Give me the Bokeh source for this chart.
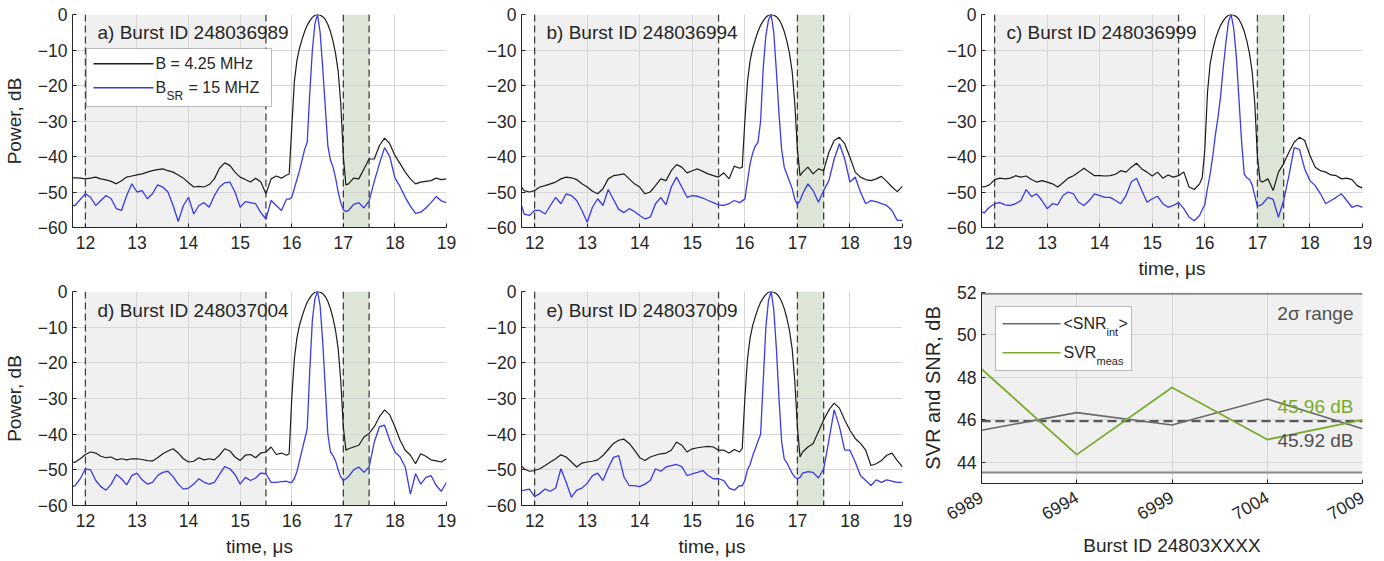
import math
from bokeh.plotting import figure
from bokeh.models import Span, BoxAnnotation, Label, FixedTicker, Range1d
from bokeh.layouts import row, column
from bokeh.embed import file_html
from bokeh.resources import INLINE

# ---------------- data ----------------
# time grid (microseconds): coarse outside the main lobe, finer across it
T = ([11.75] + [round(11.8 + 0.1 * i, 2) for i in range(42)]
     + [round(15.95 + 0.05 * i, 2) for i in range(23)]
     + [round(17.1 + 0.1 * i, 2) for i in range(20)])

X_TICKS = [12, 13, 14, 15, 16, 17, 18, 19]
Y_TICKS = [-60, -50, -40, -30, -20, -10, 0]
NOISE_WIN = [12, 15.5]
SIDE_WIN = [17, 17.5]

A_BLACK = ([-46.0, -46.0, -46.1, -46.3, -46.1, -45.8, -46.3, -46.6, -47.0, -47.7, -46.8, -45.8, -45.5,
            -45.2, -44.9, -44.4, -44.0, -43.7, -43.5, -44.0, -44.4, -45.2, -46.1,
            -47.4, -48.6, -48.4, -48.6, -47.9, -46.3, -43.3, -41.8, -42.5, -44.4,
            -45.8, -46.5, -47.2, -46.1, -47.2, -50.5, -46.3, -45.5, -46.1, -45.2]
           + [-45, -32, -19, -13, -9.5, -7, -4.8, -3, -1.8, -0.8, -0.2, 0, -0.2, -0.6, -1.4, -2.8,
              -4.8, -7.5, -11, -16, -25, -40, -48]
           + [-47.7, -46.1, -46.3, -43.5, -40.7, -40.7, -36.9, -34.8, -36.4, -39.7, -42.0, -44.4,
              -46.3, -47.7, -47.2, -47.0, -46.8, -46.1, -46.5, -46.3])
A_BLUE = ([-53.8, -53.8, -52.1, -50.5, -51.5, -53.8, -52.4, -51.0, -51.9, -54.7, -55.2, -51.0, -47.7,
           -50.0, -49.6, -51.9, -50.5, -48.0, -48.6, -50.0, -53.8, -58.3, -53.8,
           -51.5, -56.2, -53.8, -53.0, -54.3, -51.0, -48.6, -47.4, -47.2, -50.0,
           -54.3, -52.7, -53.0, -53.3, -55.8, -57.6, -52.4, -53.8, -55.2, -52.0]
          + [-52, -51.5, -49, -46.5, -44, -41, -38, -36, -22, -10, -2.5, 0, -5, -15, -26, -37,
             -41, -43, -46, -50, -53, -55, -55.5]
          + [-55.2, -53.5, -53.0, -54.5, -52.5, -47.0, -42.0, -37.5, -40.0, -46.0, -48.5, -51.5,
             -54.0, -56.0, -55.7, -54.5, -53.0, -51.3, -52.5, -53.0])

B_BLACK = ([-48.6, -49.6, -50.0, -49.6, -48.6, -48.2, -47.7, -47.2, -46.3, -45.8, -46.0, -46.5, -47.7,
            -48.6, -49.8, -50.5, -49.1, -46.3, -45.4, -45.2, -44.9, -46.3, -47.7,
            -48.6, -50.5, -50.0, -48.2, -46.3, -46.8, -44.0, -42.3, -43.0, -44.6,
            -44.0, -43.5, -44.2, -44.9, -45.4, -45.8, -44.6, -46.3, -42.7, -43.3]
           + [-43, -30, -19, -13, -9.5, -7, -4.8, -3, -1.8, -0.8, -0.2, 0, -0.2, -0.6, -1.4, -2.8,
              -4.8, -7.5, -11, -16, -25, -38, -45.4]
           + [-44.4, -43.0, -44.9, -43.5, -44.0, -38.8, -35.5, -34.6, -36.4, -40.2, -44.4, -45.8,
              -46.5, -46.8, -46.3, -45.6, -47.0, -48.6, -49.9, -48.4])
B_BLUE = ([-53.8, -56.2, -56.6, -55.2, -55.2, -56.2, -53.8, -51.5, -53.3, -50.5, -51.0, -52.4, -55.2,
           -58.5, -54.3, -51.9, -53.8, -49.3, -52.1, -54.9, -55.8, -54.7, -55.5,
           -56.6, -57.6, -57.1, -53.3, -51.5, -53.6, -48.6, -45.8, -48.6, -51.5,
           -51.0, -51.2, -51.7, -52.4, -53.0, -53.6, -53.8, -53.3, -52.4, -53.0]
          + [-52.5, -52, -47, -42, -39, -37, -36, -30, -15, -6, -1.5, 0, -5, -16, -28, -38,
             -43, -45, -47, -49, -52, -53.5, -52.4]
          + [-50.5, -47.7, -49.6, -52.9, -49.6, -46.8, -40.7, -36.4, -40.7, -47.2, -45.8, -50.0,
             -53.3, -52.4, -52.7, -53.3, -53.8, -55.2, -58.0, -58.0])

C_BLACK = ([-48.5, -48.6, -48.0, -46.5, -46.1, -46.3, -46.1, -45.4, -45.8, -45.5, -46.5, -47.2, -46.8,
            -47.2, -47.7, -48.6, -47.4, -46.1, -45.4, -44.4, -43.3, -44.4, -45.4,
            -45.4, -45.5, -45.4, -45.0, -44.0, -44.4, -43.0, -41.9, -43.5, -44.4,
            -45.5, -44.4, -46.1, -45.2, -45.8, -45.4, -44.4, -48.6, -49.3, -47.7]
           + [-46, -38, -22, -14, -10, -7, -4.8, -3, -1.8, -0.8, -0.2, 0, -0.2, -0.6, -1.4, -2.8,
              -4.8, -7.5, -11, -16, -25, -40, -46.8]
           + [-47.2, -46.3, -49.6, -44.4, -42.0, -38.8, -36.0, -34.6, -35.5, -39.7, -43.0, -44.0,
              -44.4, -45.2, -45.4, -46.3, -46.1, -46.5, -48.2, -48.9])
C_BLUE = ([-55.5, -55.9, -54.3, -53.3, -53.0, -53.6, -53.8, -53.3, -52.4, -49.3, -51.3, -50.5, -52.4,
           -54.7, -53.3, -53.6, -51.0, -50.0, -50.5, -52.9, -53.8, -52.4, -50.5,
           -51.0, -51.5, -51.5, -52.4, -53.3, -51.0, -47.2, -46.1, -49.6, -52.9,
           -51.9, -51.2, -53.3, -54.3, -53.8, -53.0, -54.7, -57.1, -58.1, -56.6]
          + [-55, -53.5, -49, -45, -40, -34, -29, -23, -15, -8, -2, 0, -4, -12, -24, -36,
             -45, -46, -46.5, -48, -51, -54, -53.8]
          + [-53.3, -51.5, -52.1, -57.1, -52.4, -45.4, -37.5, -38.0, -43.5, -46.8, -48.2, -50.5,
             -53.3, -52.4, -51.5, -50.5, -52.4, -54.3, -53.8, -54.3])

D_BLACK = ([-47.8, -47.9, -46.9, -45.7, -45.0, -45.3, -46.2, -46.6, -46.4, -47.2, -46.9, -47.2, -46.9,
            -46.9, -47.1, -47.4, -47.5, -46.6, -45.5, -44.7, -44.1, -45.3, -46.9,
            -47.8, -47.6, -46.6, -47.2, -46.9, -47.2, -45.9, -44.1, -44.7, -46.4,
            -47.4, -45.9, -45.7, -46.6, -45.3, -45.0, -43.6, -45.7, -45.3, -45.9]
           + [-45.5, -30, -19, -13, -9.5, -7, -4.8, -3, -1.8, -0.8, -0.2, 0, -0.2, -0.6, -1.4, -2.8,
              -4.8, -7.5, -11, -16, -25, -38, -44.5]
           + [-44.1, -43.6, -43.1, -40.8, -39.8, -37.9, -35.1, -33.2, -34.6, -37.9, -41.7, -44.5,
              -45.9, -48.3, -45.5, -46.2, -47.2, -47.5, -47.8, -46.9])
D_BLUE = ([-54.7, -54.4, -52.5, -49.7, -50.0, -53.0, -54.7, -55.7, -54.0, -51.3, -52.5, -54.2, -51.6,
           -50.9, -52.8, -54.0, -53.5, -51.6, -50.7, -50.4, -51.9, -54.0, -55.4,
           -55.1, -54.0, -52.5, -53.5, -54.0, -53.5, -51.3, -49.1, -49.7, -51.3,
           -54.0, -52.1, -53.0, -52.3, -50.9, -51.1, -53.5, -53.5, -53.3, -53.2]
          + [-53.5, -53.5, -52.5, -50.5, -47.5, -44.5, -41.5, -38.5, -22, -8, -2, 0, -4, -14, -27,
             -40, -45, -46, -47.5, -50, -52, -53, -52.5]
          + [-51.9, -50.0, -49.2, -50.7, -49.2, -42.2, -37.9, -37.5, -41.7, -45.0, -46.4, -49.2,
             -56.8, -51.1, -54.0, -52.1, -51.6, -54.4, -56.0, -53.5])

E_BLACK = ([-48.8, -49.7, -50.4, -50.2, -49.7, -48.8, -47.8, -46.9, -45.8, -46.4, -47.8, -49.2, -48.1,
            -47.8, -47.6, -47.2, -46.0, -44.3, -42.6, -41.7, -41.4, -42.6, -44.5,
            -46.6, -47.4, -46.4, -45.9, -45.5, -45.3, -44.5, -42.2, -43.1, -45.0,
            -44.1, -43.8, -43.6, -43.4, -43.6, -44.5, -44.5, -45.3, -44.3, -45.0]
           + [-44, -30, -19, -13, -9.5, -7, -4.8, -3, -1.8, -0.8, -0.2, 0, -0.2, -0.6, -1.4, -2.8,
              -4.8, -7.5, -11, -16, -25, -38, -46.4]
           + [-45.0, -43.6, -42.6, -39.3, -36.0, -33.2, -31.3, -32.7, -36.0, -38.9, -41.2, -42.6,
              -44.5, -48.8, -48.3, -47.4, -45.9, -45.3, -47.4, -49.2])
E_BLUE = ([-55.8, -55.7, -55.4, -57.5, -56.6, -55.4, -56.0, -55.1, -49.7, -53.5, -57.7, -55.7, -55.1,
           -53.8, -51.6, -50.9, -53.0, -49.5, -46.5, -46.0, -52.0, -54.4, -54.4,
           -54.7, -54.0, -53.0, -49.7, -50.4, -49.2, -48.8, -48.5, -49.1, -51.6,
           -51.1, -50.7, -50.2, -51.6, -52.5, -52.5, -53.0, -55.1, -55.7, -54.4]
          + [-54.5, -53, -50, -48.5, -46, -44, -42, -40, -25, -10, -2.5, 0, -5, -16, -30, -42,
             -47, -48, -49.5, -51, -52, -52.5, -52.1]
          + [-50.9, -50.5, -50.7, -52.3, -49.7, -41.7, -33.2, -37.9, -44.5, -44.5, -47.8, -51.6,
             -53.0, -54.4, -52.8, -53.5, -52.8, -53.2, -53.5, -53.5])

TITLES = ["a) Burst ID 248036989", "b) Burst ID 248036994", "c) Burst ID 248036999",
          "d) Burst ID 248037004", "e) Burst ID 248037009"]

# summary panel
BURST_IDS = [6989, 6994, 6999, 7004, 7009]
SNR_INT = [45.51, 46.34, 45.76, 46.98, 45.58]
SVR_MEAS = [48.40, 44.36, 47.52, 45.07, 46.00]
SNR_MEAN = 45.92
SVR_MEAN = 45.96
SIGMA_LO = 43.52
SIGMA_HI = 51.94
F_Y_TICKS = [44, 46, 48, 50, 52]

for s in (A_BLACK, A_BLUE, B_BLACK, B_BLUE, C_BLACK, C_BLUE, D_BLACK, D_BLUE, E_BLACK, E_BLUE):
    assert len(s) == len(T), len(s)

# ---------------- style ----------------
FONT = "Liberation Sans"
TXT = "#262626"
C_BLACK_LINE = "#1c1c1c"
C_BLUE_LINE = "#3a3ae6"
C_GREEN = "#77ac30"
C_GREY = "#6a6a6a"


def style_axes(p, xt, yt):
    p.outline_line_color = None
    p.background_fill_color = "white"
    p.border_fill_color = "white"
    p.xaxis.ticker = FixedTicker(ticks=xt)
    p.yaxis.ticker = FixedTicker(ticks=yt)
    p.xgrid.ticker = FixedTicker(ticks=xt)
    p.ygrid.ticker = FixedTicker(ticks=yt)
    p.grid.grid_line_color = "#d6d6d6"
    p.grid.grid_line_width = 1
    for ax in (p.xaxis, p.yaxis):
        ax.axis_line_color = TXT
        ax.axis_line_width = 1
        ax.major_tick_line_color = TXT
        ax.major_tick_in = 4
        ax.major_tick_out = 0
        ax.minor_tick_line_color = None
        ax.major_label_text_font = FONT
        ax.major_label_text_font_size = "17.5px"
        ax.major_label_text_color = TXT
        ax.axis_label_text_font = FONT
        ax.axis_label_text_font_size = "19px"
        ax.axis_label_text_font_style = "normal"
        ax.axis_label_text_color = TXT
    p.xaxis.major_label_standoff = 8
    p.yaxis.major_label_standoff = 5
    p.xaxis.axis_label_standoff = 6
    p.yaxis.axis_label_standoff = 10


def screen_label(p, x, y, text, size, color=TXT, align="left"):
    p.add_layout(Label(x=x, y=y, x_units="screen", y_units="screen", text=text,
                       text_font=FONT, text_font_size=size, text_color=color,
                       text_baseline="middle", text_align=align, level="overlay"))


def screen_box(p, l, r, b, t):
    p.add_layout(BoxAnnotation(left=l, right=r, bottom=b, top=t,
                               left_units="screen", right_units="screen",
                               bottom_units="screen", top_units="screen",
                               fill_color="white", fill_alpha=1, line_color=TXT,
                               line_width=1, level="annotation"))


def screen_hline(p, x0, x1, y, color, thick):
    # legend swatch: a thin filled strip in screen space
    p.add_layout(BoxAnnotation(left=x0, right=x1, bottom=y, top=y + thick,
                               left_units="screen", right_units="screen",
                               bottom_units="screen", top_units="screen",
                               fill_color=color, fill_alpha=1, line_color=None,
                               level="overlay"))


def make_panel(black, blue, title, width, height, ml, mr, mt, mb, ylabel=None, xlabel=None,
               legend=False):
    p = figure(width=width, height=height, x_range=Range1d(11.75, 19), y_range=Range1d(-60, 0),
               output_backend="svg", toolbar_location=None,
               min_border_left=ml, min_border_right=mr, min_border_top=mt, min_border_bottom=mb)
    style_axes(p, X_TICKS, Y_TICKS)
    p.add_layout(BoxAnnotation(left=NOISE_WIN[0], right=NOISE_WIN[1], fill_color="#f0f0f0",
                               fill_alpha=1, line_color=None, level="image"))
    p.add_layout(BoxAnnotation(left=SIDE_WIN[0], right=SIDE_WIN[1], fill_color="#dde6d6",
                               fill_alpha=1, line_color=None, level="image"))
    for loc in NOISE_WIN + SIDE_WIN:
        p.add_layout(Span(location=loc, dimension="height", line_color="#404040",
                          line_width=1.3, line_dash="7 4", level="underlay"))
    p.line(T, black, line_color=C_BLACK_LINE, line_width=1.2)
    p.line(T, blue, line_color=C_BLUE_LINE, line_width=1.3)
    if ylabel:
        p.yaxis.axis_label = ylabel
    if xlabel:
        p.xaxis.axis_label = xlabel
    screen_label(p, 25, 195, title, "19px")
    if legend:
        screen_box(p, 14, 199, 121, 179)
        screen_hline(p, 21, 81, 163, C_BLACK_LINE, 1.4)
        screen_hline(p, 21, 81, 139, C_BLUE_LINE, 1.4)
        screen_label(p, 83, 164, "B = 4.25 MHz", "16px")
        screen_label(p, 83, 140, "B", "16px")
        screen_label(p, 94, 132, "SR", "12px")
        screen_label(p, 116, 140, "= 15 MHZ", "16px")
    return p


XL = "time, \u03bcs"
pa = make_panel(A_BLACK, A_BLUE, TITLES[0], 456, 281, 66, 10, 14, 54, ylabel="Power, dB", legend=True)
pb = make_panel(B_BLACK, B_BLUE, TITLES[1], 456, 281, 65, 10, 14, 54)
pc = make_panel(C_BLACK, C_BLUE, TITLES[2], 472, 281, 69, 22, 14, 54, xlabel=XL)
pd = make_panel(D_BLACK, D_BLUE, TITLES[3], 456, 280, 66, 10, 10, 56, ylabel="Power, dB", xlabel=XL)
pe = make_panel(E_BLACK, E_BLUE, TITLES[4], 456, 280, 65, 10, 10, 56, xlabel=XL)

# ---------------- summary panel ----------------
pf = figure(width=472, height=280, x_range=Range1d(6989, 7009), y_range=Range1d(43, 52),
            output_backend="svg", toolbar_location=None,
            min_border_left=69, min_border_right=22, min_border_top=11, min_border_bottom=78)
style_axes(pf, BURST_IDS, F_Y_TICKS)
pf.xaxis.major_label_orientation = math.pi / 6
pf.xaxis.major_label_standoff = 12
pf.xaxis.axis_label = "Burst ID 24803XXXX"
pf.yaxis.axis_label = "SVR and SNR, dB"
pf.yaxis.axis_label_text_font_size = "20px"
pf.add_layout(BoxAnnotation(bottom=SIGMA_LO, top=SIGMA_HI, fill_color="#f0f0f0", fill_alpha=1,
                            line_color=None, level="image"))
for loc in (SIGMA_LO, SIGMA_HI):
    pf.add_layout(Span(location=loc, dimension="width", line_color="#8a8a8a", line_width=2,
                       level="underlay"))
for loc in (SNR_MEAN, SVR_MEAN):
    pf.add_layout(Span(location=loc, dimension="width", line_color="#5a5a5a", line_width=1.6,
                       line_dash="9 5", level="underlay"))
pf.line(BURST_IDS, SNR_INT, line_color=C_GREY, line_width=1.6)
pf.line(BURST_IDS, SVR_MEAS, line_color=C_GREEN, line_width=1.8)

screen_label(pf, 372, 170, "2\u03c3 range", "19px", color="#505050", align="right")
screen_label(pf, 372, 77, "%.2f dB" % SVR_MEAN, "19px", color=C_GREEN, align="right")
screen_label(pf, 372, 43, "%.2f dB" % SNR_MEAN, "19px", color="#505050", align="right")

screen_box(pf, 14, 150, 113, 177)
screen_hline(pf, 21, 79, 159, C_GREY, 1.6)
screen_hline(pf, 21, 79, 130, C_GREEN, 1.6)
screen_label(pf, 82, 160, "<SNR", "16px")
screen_label(pf, 125, 152, "int", "11px")
screen_label(pf, 137, 160, ">", "16px")
screen_label(pf, 82, 131, "SVR", "16px")
screen_label(pf, 115, 123, "meas", "11px")

layout = column(row(pa, pb, pc), row(pd, pe, column(pf)))

open("out.html", "w").write(file_html(layout, INLINE))
